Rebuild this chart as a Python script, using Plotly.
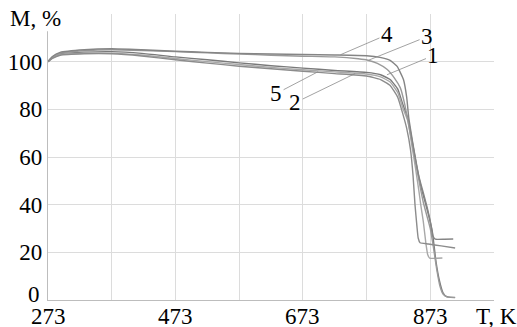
import plotly.graph_objects as go

# ---- data ----
T4 = [273, 280, 292, 330, 373, 420, 473, 523, 573, 623, 673, 723, 773, 794, 810, 821, 831, 836, 839, 843, 848, 855, 862, 868, 873, 877, 881, 895, 909]
M4 = [100, 102.2, 103.9, 105, 105.4, 105, 104.4, 103.9, 103.5, 103.2, 103, 102.8, 102.5, 101.8, 100.5, 98, 92.4, 85, 77, 70, 62, 52, 45, 39, 33, 27, 25.5, 25.5, 25.6]

T3 = [273, 280, 292, 330, 373, 420, 473, 523, 573, 623, 673, 723, 760, 775, 790, 805, 817, 826, 833, 838, 843, 850, 856, 862, 868, 873, 878, 883, 888, 893, 899, 912]
M3 = [100, 102, 103.6, 104.6, 105, 104.7, 104.2, 103.7, 103.2, 102.7, 102.3, 102, 101.2, 100.6, 99.3, 96.8, 93, 89, 82, 75, 68, 58, 49, 41, 35, 30, 22, 13, 6, 2.5, 1.3, 1.1]

T1 = [273, 280, 292, 330, 373, 420, 473, 523, 573, 623, 673, 723, 773, 795, 810, 822, 830, 838, 845, 851, 858, 865, 870, 876, 882, 887, 893, 898, 905, 912]
M1 = [100, 101.8, 103.3, 104, 104.2, 103.5, 102, 100.8, 99.5, 98.3, 97.3, 96.3, 95.5, 94.5, 92.5, 88.5, 82, 76, 66, 57, 48, 41, 36, 29, 16, 8.5, 3, 1.5, 1.1, 1]

T2 = [273, 280, 292, 330, 373, 420, 473, 523, 573, 623, 673, 723, 773, 795, 810, 822, 830, 838, 844, 850, 855, 858, 862, 866, 869, 872, 892]
M2 = [100, 101.6, 103, 103.6, 103.6, 102.8, 101.3, 100, 98.8, 97.6, 96.6, 95.7, 94.8, 93.6, 91.5, 87, 80.5, 75, 65, 55, 46, 40, 33, 24, 19, 17.6, 17.6]

T5 = [273, 280, 292, 330, 373, 420, 473, 523, 573, 623, 673, 723, 773, 795, 810, 822, 830, 836, 842, 846, 849, 852, 854, 857, 870, 890, 912]
M5 = [100, 101.4, 102.7, 103.3, 103.3, 102.4, 100.8, 99.4, 98.1, 97, 96, 95, 94, 92.5, 90, 85, 78, 72, 63, 52, 40, 31, 26, 24, 23.5, 22.7, 21.8]

series = [("1", T1, M1, "#7a7a7a"), ("2", T2, M2, "#a8a8a8"), ("3", T3, M3, "#9a9a9a"),
          ("4", T4, M4, "#858585"), ("5", T5, M5, "#8c8c8c")]

# curve labels: text position and leader tip (T, M)
lab_text = ["4", "3", "1", "5", "2"]
lab_T = [805, 868, 878, 631, 661]
lab_M = [111.3, 110.5, 102.6, 86.6, 82.8]
tip_T = [732, 776, 805, 697, 755]
tip_M = [102.9, 100.6, 94.5, 95.8, 95.0]

x_grid = [273, 373, 473, 573, 673, 773, 873, 973]
x_labels = [273, 473, 673, 873]
y_ticks = [0, 20, 40, 60, 80, 100, 120]
y_text = ["", "20", "40", "60", "80", "100", ""]

FONT = "Liberation Serif"
FS = 23

fig = go.Figure()
for name, t, m, c in series:
    fig.add_trace(go.Scatter(x=t, y=m, mode="lines", name=name,
                             line=dict(color=c, width=1.4, shape="spline", smoothing=0.4),
                             showlegend=False, hoverinfo="skip"))

for txt, lx, ly, tx, ty in zip(lab_text, lab_T, lab_M, tip_T, tip_M):
    fig.add_annotation(x=tx, y=ty, ax=lx, ay=ly, axref="x", ayref="y", xref="x", yref="y",
                       text=txt, showarrow=True, arrowhead=0, arrowwidth=0.8,
                       arrowcolor="#8a8a8a", standoff=0, startstandoff=0,
                       font=dict(family=FONT, size=FS, color="black"))

# x tick labels placed close under the axis
for v in x_labels:
    fig.add_annotation(xref="x", yref="paper", x=v, y=-0.056, text=str(v), showarrow=False,
                       xanchor="center", yanchor="middle", font=dict(family=FONT, size=FS, color="black"))

# white patch behind the axis title at top-left
fig.add_shape(type="rect", xref="paper", yref="paper", x0=-0.11, x1=0.058, y0=0.94, y1=1.06,
              fillcolor="white", line=dict(width=0), layer="above")

fig.add_annotation(xref="paper", yref="paper", x=-0.027, y=0.983, text="M, %", showarrow=False,
                   xanchor="center", yanchor="middle", font=dict(family=FONT, size=FS, color="black"))
fig.add_annotation(xref="paper", yref="paper", x=1.0067, y=-0.056, text="T, K", showarrow=False,
                   xanchor="center", yanchor="middle", font=dict(family=FONT, size=FS, color="black"))
# zero label of the M axis, sitting a little above the corner
fig.add_annotation(xref="paper", yref="y", x=-0.014, y=2.2, text="0", showarrow=False,
                   xanchor="right", yanchor="middle", font=dict(family=FONT, size=FS, color="black"))

fig.update_layout(
    width=517, height=327,
    margin=dict(l=48, r=23, t=14, b=27),
    paper_bgcolor="white", plot_bgcolor="white",
    font=dict(family=FONT, size=FS, color="black"),
    xaxis=dict(range=[273, 973], tickvals=x_grid, showticklabels=False, showgrid=True,
               gridcolor="#dcdcdc", gridwidth=1, showline=True, linecolor="#bdbdbd", linewidth=1.2,
               zeroline=False, ticks="", automargin=False),
    yaxis=dict(range=[0, 120], tickvals=y_ticks, ticktext=y_text, showgrid=True,
               gridcolor="#dcdcdc", gridwidth=1, showline=True, linecolor="#bdbdbd", linewidth=1.2,
               zeroline=False, ticks="", automargin=False,
               tickfont=dict(family=FONT, size=FS, color="black")),
)

fig.write_html("out.html", config={"displayModeBar": False},
               post_script="document.body.style.margin='0';document.body.style.padding='0';")
